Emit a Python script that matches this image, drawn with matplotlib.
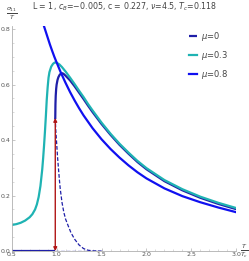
import matplotlib
matplotlib.use("Agg")
import matplotlib.pyplot as plt
from matplotlib.ticker import MultipleLocator

# mu = 0.8 (single curve, no jump)
t_08 = [0.85, 0.875, 0.90, 0.925, 0.95, 0.975, 1.00, 1.05, 1.10, 1.15, 1.20, 1.25, 1.30, 1.40, 1.50, 1.60,
        1.70, 1.80, 1.90, 2.00, 2.20, 2.40, 2.60, 2.80, 3.00]
s_08 = [0.82, 0.795, 0.77, 0.745, 0.722, 0.70, 0.68, 0.641, 0.606, 0.573, 0.543, 0.515, 0.489, 0.443, 0.403, 0.368,
        0.337, 0.309, 0.284, 0.262, 0.226, 0.198, 0.176, 0.157, 0.14]

# mu = 0.3
t_03 = [0.50, 0.55, 0.60, 0.65, 0.70, 0.73, 0.76, 0.78, 0.80, 0.82, 0.84, 0.85, 0.86, 0.87, 0.88, 0.89, 0.90,
        0.91, 0.92, 0.94, 0.96, 0.98, 1.00, 1.03, 1.06, 1.10, 1.15, 1.20, 1.25, 1.30, 1.35, 1.40, 1.50, 1.60,
        1.70, 1.80, 1.90, 2.00, 2.20, 2.40, 2.60, 2.80, 3.00]
s_03 = [0.094, 0.097, 0.102, 0.11, 0.122, 0.133, 0.15, 0.168, 0.195, 0.235, 0.295, 0.335, 0.38, 0.43, 0.485,
        0.545, 0.59, 0.625, 0.645, 0.665, 0.675, 0.68, 0.679, 0.673, 0.663, 0.647, 0.625, 0.602, 0.578, 0.555,
        0.53, 0.507, 0.463, 0.423, 0.387, 0.355, 0.325, 0.299, 0.256, 0.223, 0.196, 0.174, 0.155]

# mu = 0, stable branches
t_0_low = [0.50, 0.985]
s_0_low = [0.0, 0.0]
t_0_up = [0.985, 0.987, 0.99, 0.995, 1.00, 1.01, 1.02, 1.035, 1.05, 1.065, 1.08, 1.10, 1.15, 1.20, 1.25, 1.30,
          1.35, 1.40, 1.50, 1.60, 1.70, 1.80, 1.90, 2.00, 2.20, 2.40, 2.60, 2.80, 3.00]
s_0_up = [0.48, 0.53, 0.56, 0.585, 0.60, 0.617, 0.627, 0.636, 0.64, 0.641, 0.638, 0.632, 0.615, 0.594, 0.571,
          0.548, 0.524, 0.501, 0.458, 0.419, 0.383, 0.351, 0.321, 0.295, 0.252, 0.219, 0.192, 0.17, 0.151]

# mu = 0, unstable branches (dashed)
t_0_dash = [0.985, 0.99, 1.00, 1.01, 1.02, 1.03, 1.04, 1.06, 1.08, 1.10, 1.13, 1.16, 1.20, 1.25, 1.30, 1.35,
            1.40, 1.50]
s_0_dash = [0.48, 0.44, 0.39, 0.34, 0.30, 0.26, 0.225, 0.175, 0.14, 0.115, 0.09, 0.066, 0.043, 0.022, 0.009,
            0.003, 0.001, 0.0]
t_0_dzero = [0.985, 1.50]
s_0_dzero = [0.0, 0.0]

# jump
t_jump = 0.985
s_jump = 0.48

navy = "#1f1fa8"
teal = "#1fb3b3"
blue = "#1010f0"
gray = "#555555"

fig = plt.figure(figsize=(2.49, 2.61), dpi=100)
ax = fig.add_axes([0.047, 0.038, 0.902, 0.861])

lw = 1.6
ax.plot(t_0_low, s_0_low, color=navy, lw=lw, label=r"$\mu$=0", solid_capstyle="butt")
ax.plot(t_0_up, s_0_up, color=navy, lw=lw)
ax.plot(t_0_dash, s_0_dash, color=navy, lw=0.9, ls=(0, (3, 1.5)))
ax.plot(t_0_dzero, s_0_dzero, color=navy, lw=0.9, ls=(0, (3, 1.5)))
ax.plot(t_03, s_03, color=teal, lw=lw, label=r"$\mu$=0.3")
ax.plot(t_08, s_08, color=blue, lw=lw, label=r"$\mu$=0.8")

ax.annotate("", xy=(t_jump, 0.0), xytext=(t_jump, s_jump),
            arrowprops=dict(arrowstyle="<|-|>", color="#b01515", lw=1.0,
                            mutation_scale=5, shrinkA=0, shrinkB=0))

ax.set_xlim(0.5, 3.0)
ax.set_ylim(0.0, 0.81)
ax.xaxis.set_major_locator(MultipleLocator(0.5))
ax.xaxis.set_minor_locator(MultipleLocator(0.1))
ax.yaxis.set_major_locator(MultipleLocator(0.2))
ax.yaxis.set_minor_locator(MultipleLocator(0.05))
ax.xaxis.set_major_formatter(plt.FuncFormatter(lambda v, p: f"{v:.1f}"))
ax.yaxis.set_major_formatter(plt.FuncFormatter(lambda v, p: f"{v:.1f}"))

for side in ["top", "right"]:
    ax.spines[side].set_visible(False)
for side in ["left", "bottom"]:
    ax.spines[side].set_color("#b0b0b0")
    ax.spines[side].set_linewidth(0.6)
ax.tick_params(which="major", direction="in", length=2, width=0.5, color="#b0b0b0", labelsize=4.5,
               labelcolor=gray, pad=1)
ax.tick_params(which="minor", direction="in", length=1.2, width=0.4, color="#c0c0c0")

ax.text(0.0, 1.02, r"$\frac{\sigma_{11}}{T}$", transform=ax.transAxes, fontsize=6.5, color="#444444",
        ha="center", va="bottom")
ax.text(1.015, 0.0, r"$\frac{T}{T_c}$", transform=ax.transAxes, fontsize=6.5, color="#444444",
        ha="left", va="center")

fig.text(0.5, 0.975, r"L = 1, $c_B$=$-$0.005, c = 0.227, $\nu$=4.5, $T_c$=0.118", fontsize=5.7,
         color="#444444", ha="center", va="center")

leg = ax.legend(loc="upper left", bbox_to_anchor=(0.79, 0.985), fontsize=6, frameon=False,
                borderaxespad=0, borderpad=0, handlelength=1.0, handletextpad=0.4, labelspacing=0.75,
                labelcolor="#444444")

fig.savefig("out.png", dpi=100)
